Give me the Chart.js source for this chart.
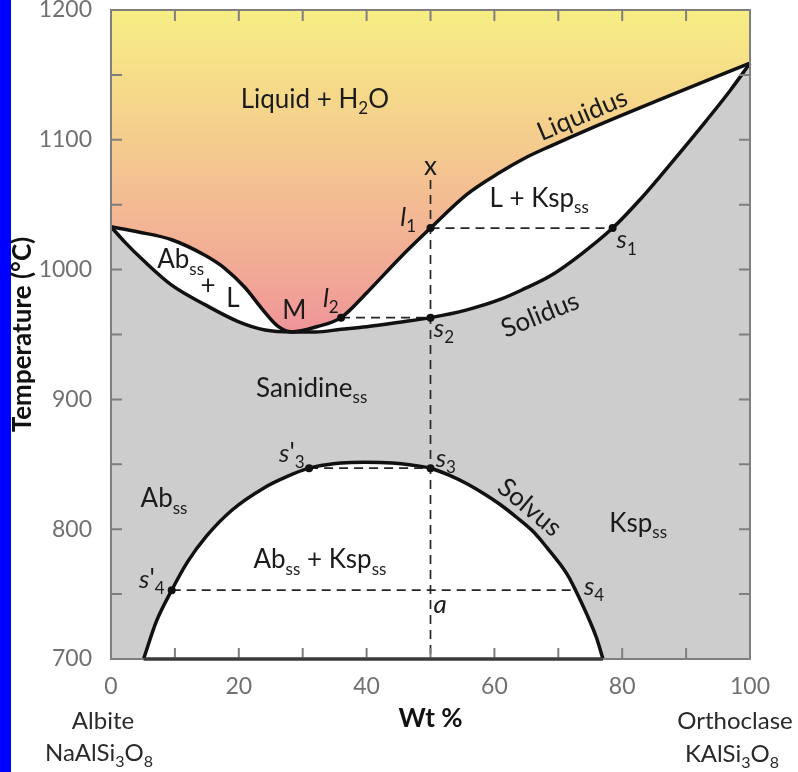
<!DOCTYPE html>
<html>
<head>
<meta charset="utf-8">
<title>Albite – Orthoclase</title>
<script src="https://cdn.jsdelivr.net/npm/chart.js@4.4.1/dist/chart.umd.min.js"></script>
<style>
  html, body { margin: 0; padding: 0; background: #fff; }
  #wrap { position: relative; width: 798px; height: 772px; overflow: hidden; }
  #edge { position: absolute; left: 0; top: 0; width: 11px; height: 772px; background: #0000ff; }
  #chart { position: absolute; left: 0; top: 0; }
</style>
</head>
<body>
<div id="wrap">
  <div id="edge"></div>
  <canvas id="chart" width="798" height="772"></canvas>
</div>
<script>
// boundaries: composition in wt % orthoclase, temperature in °C
const liquidusWt = [0, 4.3, 9.5, 14.7, 17.8, 21.0, 23.6, 26.2, 28.3, 32.2, 36, 40, 45.2, 50, 55.7, 60.9, 64.8, 68.7, 74.9, 85.4, 100];
const liquidusT  = [1033, 1029, 1023, 1011, 1001, 986, 970, 956, 952, 956, 963, 982, 1009, 1032, 1058, 1075, 1086, 1095, 1108.5, 1130, 1159];

const solidusWt = [0, 2.2, 5.3, 9.5, 14.7, 19.9, 24.1, 28.3, 32, 36, 40, 45.2, 50, 55.7, 60.9, 64.8, 68.7, 73.6, 78.5, 82.8, 88.0, 93.2, 96.9, 100];
const solidusT  = [1033, 1021, 1006, 988, 973, 960, 953.5, 952, 952, 954, 956, 959.5, 963, 969, 977, 985.5, 995, 1012, 1032, 1054, 1084, 1115, 1138, 1159];

const solvusWt = [5.1, 7.1, 9.5, 12, 15, 19, 24, 27.5, 31, 33.5, 36, 39.7, 44, 47, 50, 53, 55.7, 58.3, 60.9, 63.5, 66.1, 68.2, 70.3, 71.6, 72.7, 74.5, 76, 77];
const solvusT  = [700, 729, 753, 775, 795, 815, 832, 840.5, 847, 849.5, 851, 851.5, 851, 849.5, 847, 841.5, 835, 827.5, 819, 809, 798, 786, 773, 763.5, 753, 734, 716, 700];

// tie lines l1-s1, l2-s2, s'3-s3, s'4-s4
const tieWt = [[50, 78.5], [36, 50], [31, 50], [9.5, 72.7]];
const tieT  = [1032, 963, 847, 753];

// cooling path of bulk composition x
const isoplethWt = [50, 50];
const isoplethT  = [1069, 700];

// marked points l1, s1, l2, s2, s'3, s3, s'4
const dotWt = [50, 78.5, 36, 50, 31, 50, 9.5];
const dotT  = [1032, 1032, 963, 963, 847, 847, 753];

const xLabels = [0, 20, 40, 60, 80, 100];
const yLabels = [700, 800, 900, 1000, 1100, 1200];

// field and point labels (wt %, °C of the text baseline; "mid" = centred)
const notes = [
  { t: 'Liquid + H_{2}O', wt: 31.9, T: 1124.5 },
  { t: 'Liquidus', wt: 73.7, T: 1119.9, rot: -23, mid: true },
  { t: 'L + Ksp_{ss}', wt: 67.0, T: 1048.5 },
  { t: 'x', wt: 50, T: 1072.9 },
  { t: '*l*_{1}', wt: 46.5, T: 1033.6 },
  { t: '*s*_{1}', wt: 80.7, T: 1016.4 },
  { t: 'Ab_{ss}', wt: 10.9, T: 1001 },
  { t: '+', wt: 15.2, T: 981.2 },
  { t: 'L', wt: 19.1, T: 971.4 },
  { t: 'M', wt: 28.7, T: 961.7 },
  { t: '*l*_{2}', wt: 34.4, T: 971.4 },
  { t: 'Solidus', wt: 67.1, T: 965.8, rot: -22, mid: true },
  { t: '*s*_{2}', wt: 52.1, T: 948.3 },
  { t: 'Sanidine_{ss}', wt: 31.4, T: 901.8 },
  { t: "*s*'_{3}", wt: 28.3, T: 852 },
  { t: '*s*_{3}', wt: 52.4, T: 848.2 },
  { t: 'Ab_{ss}', wt: 8.3, T: 816.9 },
  { t: 'Solvus', wt: 65.6, T: 817.3, rot: 40, mid: true },
  { t: 'Ksp_{ss}', wt: 82.5, T: 798.1 },
  { t: 'Ab_{ss} + Ksp_{ss}', wt: 32.7, T: 769.9 },
  { t: "*s*'_{4}", wt: 6.4, T: 754.5 },
  { t: '*s*_{4}', wt: 75.6, T: 749.3 },
  { t: '*a*', wt: 51.5, T: 735.7 }
];

const FONT = 'Lato, "Open Sans", sans-serif';
const pts = (xs, ys) => xs.map((x, i) => ({ x, y: ys[i] }));

const liquidus = pts(liquidusWt, liquidusT);
const solidus = pts(solidusWt, solidusT);
const solvus = pts(solvusWt, solvusT);
const domeBase = [{ x: solvusWt[0], y: 700 }, { x: solvusWt[solvusWt.length - 1], y: 700 }];

// "*it*" = italic, "_{..}" = subscript
function runs(str) {
  const out = [];
  const re = /\*([^*]+)\*|_\{([^}]+)\}|([^*_]+)/g;
  let m;
  while ((m = re.exec(str))) {
    if (m[1]) out.push({ s: m[1], it: true });
    else if (m[2]) out.push({ s: m[2], sub: true });
    else out.push({ s: m[3] });
  }
  return out;
}

function drawRich(ctx, str, cx, cy, size, rot, dy, color) {
  const parts = runs(str);
  const fontFor = p => `${p.it ? 'italic ' : ''}${p.sub ? Math.round(size * 0.66) : size}px ${FONT}`;
  let w = 0;
  parts.forEach(p => { ctx.font = fontFor(p); p.w = ctx.measureText(p.s).width; w += p.w; });
  ctx.save();
  ctx.translate(cx, cy);
  if (rot) ctx.rotate(rot * Math.PI / 180);
  ctx.fillStyle = color;
  ctx.textAlign = 'left';
  ctx.textBaseline = 'alphabetic';
  let x = -w / 2;
  parts.forEach(p => {
    ctx.font = fontFor(p);
    ctx.fillText(p.s, x, dy + (p.sub ? size * 0.24 : 0));
    x += p.w;
  });
  ctx.restore();
}

const curve = { cubicInterpolationMode: 'monotone', pointRadius: 0, fill: false, clip: false };
const dashed = { borderColor: '#262626', borderWidth: 1.7, borderDash: [9, 6], pointRadius: 0, fill: false, order: 2 };
const hidden = 'rgba(0,0,0,0)';

const datasets = [
  { data: pts(dotWt, dotT), showLine: false, pointRadius: 4, pointBackgroundColor: '#111', pointBorderWidth: 0, order: 0 },
  { data: liquidus, borderColor: '#111', borderWidth: 3.5, ...curve, order: 1 },
  { data: solidus, borderColor: '#111', borderWidth: 3.5, ...curve, order: 1 },
  { data: solvus, borderColor: '#111', borderWidth: 3.5, ...curve, order: 1 },
  { data: domeBase, borderColor: '#3a3a3a', borderWidth: 3, pointRadius: 0, fill: false, clip: false, order: 1 },
  ...tieWt.map((w, i) => ({ data: pts(w, [tieT[i], tieT[i]]), ...dashed })),
  { data: pts(isoplethWt, isoplethT), ...dashed },
  // filled fields, back to front: liquid, two-phase loops, solid solution, solvus dome
  { data: solvus, fill: 'start', backgroundColor: '#ffffff', borderColor: hidden, cubicInterpolationMode: 'monotone', pointRadius: 0, order: 7 },
  { data: solidus, fill: 'start', backgroundColor: '#cdcdcd', borderColor: hidden, cubicInterpolationMode: 'monotone', pointRadius: 0, order: 8 },
  { data: liquidus, fill: 'start', backgroundColor: '#ffffff', borderColor: hidden, cubicInterpolationMode: 'monotone', pointRadius: 0, order: 9 },
  {
    data: liquidus, fill: 'end', borderColor: hidden, cubicInterpolationMode: 'monotone', pointRadius: 0, order: 10,
    backgroundColor(c) {
      const { ctx, chartArea, scales } = c.chart;
      if (!chartArea) return '#f4c48f';
      const g = ctx.createLinearGradient(0, scales.y.getPixelForValue(1200), 0, scales.y.getPixelForValue(950));
      g.addColorStop(0, '#f7ee84');
      g.addColorStop(0.3, '#f5d58b');
      g.addColorStop(0.6, '#f3bb93');
      g.addColorStop(0.85, '#f1a596');
      g.addColorStop(1, '#ee939a');
      return g;
    }
  }
];
const domeBaseIndex = 4;

// frame with inward ticks, then the dome base on top of it
const frame = {
  id: 'frame',
  afterDatasetsDraw(chart) {
    const { ctx, chartArea: a, scales: { x, y } } = chart;
    ctx.save();
    ctx.strokeStyle = '#7f7f7f';
    ctx.lineWidth = 2;
    ctx.strokeRect(a.left, a.top, a.right - a.left, a.bottom - a.top);
    ctx.beginPath();
    x.ticks.forEach(t => {
      const px = x.getPixelForValue(t.value);
      if (px <= a.left + 1 || px >= a.right - 1) return;
      ctx.moveTo(px, a.bottom); ctx.lineTo(px, a.bottom - 11);
      ctx.moveTo(px, a.top); ctx.lineTo(px, a.top + 11);
    });
    y.ticks.forEach(t => {
      const py = y.getPixelForValue(t.value);
      if (py <= a.top + 1 || py >= a.bottom - 1) return;
      ctx.moveTo(a.left, py); ctx.lineTo(a.left + 11, py);
      ctx.moveTo(a.right, py); ctx.lineTo(a.right - 11, py);
    });
    ctx.stroke();
    ctx.restore();
    chart.getDatasetMeta(domeBaseIndex).dataset.draw(ctx, a);
  }
};

const labels = {
  id: 'labels',
  afterDraw(chart) {
    const { ctx, chartArea: a, scales: { x, y } } = chart;
    const size = 26;
    notes.forEach(n => {
      drawRich(ctx, n.t, x.getPixelForValue(n.wt), y.getPixelForValue(n.T), size,
        n.rot || 0, n.mid ? size * 0.36 : 0, '#1b1b1b');
    });
    const x0 = x.getPixelForValue(0), x1 = x.getPixelForValue(100);
    drawRich(ctx, 'Albite', x0 - 8, a.bottom + 70, 24, 0, 0, '#2a2a2a');
    drawRich(ctx, 'NaAlSi_{3}O_{8}', x0 - 12, a.bottom + 102, 24, 0, 0, '#2a2a2a');
    drawRich(ctx, 'Orthoclase', x1 - 15, a.bottom + 70, 24, 0, 0, '#2a2a2a');
    drawRich(ctx, 'KAlSi_{3}O_{8}', x1 - 18, a.bottom + 103, 24, 0, 0, '#2a2a2a');
  }
};

new Chart(document.getElementById('chart'), {
  type: 'line',
  data: { datasets },
  options: {
    responsive: false,
    animation: false,
    devicePixelRatio: 1,
    events: [],
    layout: { padding: { left: 0, right: 48, top: 10, bottom: 0 } },
    plugins: { legend: { display: false }, tooltip: { enabled: false } },
    scales: {
      x: {
        type: 'linear', min: 0, max: 100,
        afterFit(s) { s.height = 113; s.paddingLeft = 0; s.paddingRight = 0; },
        grid: { display: false, drawTicks: false },
        border: { display: false },
        ticks: {
          stepSize: 10, autoSkip: false, maxRotation: 0, padding: 14,
          color: '#707070', font: { family: FONT, size: 23 },
          callback: v => xLabels.includes(v) ? v : ''
        },
        title: {
          display: true, text: 'Wt %', color: '#111',
          font: { family: FONT, size: 26, weight: 'bold' },
          padding: { top: 0, bottom: 38 }
        }
      },
      y: {
        type: 'linear', min: 700, max: 1200,
        afterFit(s) { s.width = 111; s.paddingTop = 0; s.paddingBottom = 0; },
        grid: { display: false, drawTicks: false },
        border: { display: false },
        ticks: {
          stepSize: 50, autoSkip: false, padding: 19,
          color: '#707070', font: { family: FONT, size: 23 },
          callback: v => yLabels.includes(v) ? v : ''
        },
        title: {
          display: true, text: 'Temperature (°C)', color: '#111',
          font: { family: FONT, size: 26, weight: 'bold' },
          padding: { top: 7, bottom: 0 }
        }
      }
    }
  },
  plugins: [frame, labels]
});
</script>
</body>
</html>
